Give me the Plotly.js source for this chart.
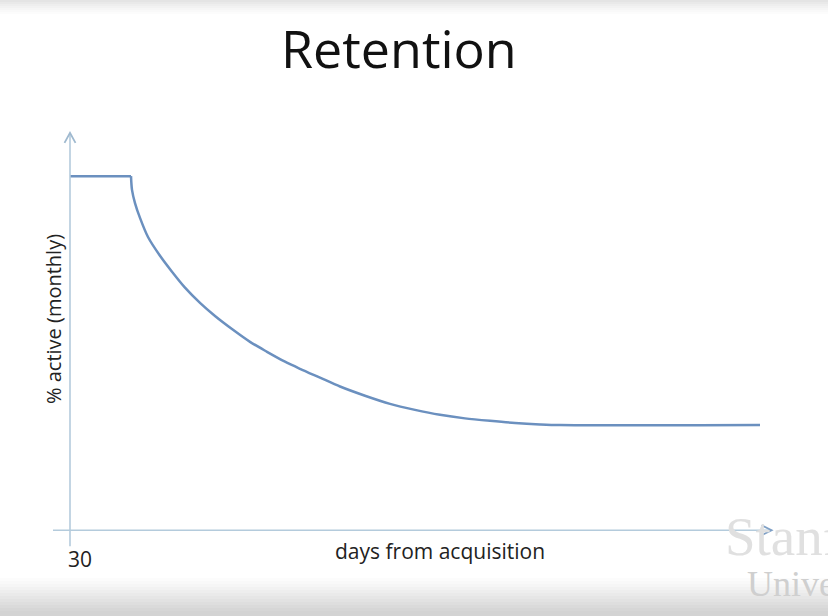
<!DOCTYPE html>
<html>
<head>
<meta charset="utf-8">
<script src="https://cdn.plot.ly/plotly-3.0.1.min.js"></script>
<style>html,body{margin:0;padding:0;background:#fff;}#chart{width:828px;height:616px;}</style>
</head>
<body>
<div id="chart"></div>
<script>
// Retention curve: days from acquisition vs % active (monthly)
var flatDays = [30, 60.5];
var flatPct = [100, 100];
var decayDays = [60.5, 61, 62.5, 65, 69, 75, 81, 87.5, 95, 102.5, 111.5, 120, 128.5, 137.5, 145, 155, 165, 177.5, 190, 202.5, 215, 227.5, 240, 252.5, 265, 275, 375];
var decayPct = [100, 96.1, 92.4, 88.2, 82.8, 77.5, 73.0, 68.5, 64.2, 60.5, 56.6, 53.2, 50.4, 47.6, 45.6, 43.1, 40.6, 38.0, 35.7, 34.0, 32.6, 31.6, 30.9, 30.3, 29.9, 29.7, 29.7];
var xTickVals = [30];
var xTickText = ['30'];

var axisColor = '#b4cbdc';
var lineColor = '#6b90bf';

var traces = [
  {x: flatDays, y: flatPct, type: 'scatter', mode: 'lines',
   line: {color: lineColor, width: 2.5, shape: 'linear'}, hoverinfo: 'skip'},
  {x: decayDays, y: decayPct, type: 'scatter', mode: 'lines',
   line: {color: lineColor, width: 2.5, shape: 'spline', smoothing: 0.8}, hoverinfo: 'skip'}
];

// layout geometry (pixels)
var L = 50, R = 48, T = 123, B = 68, W = 828, H = 616;
var PH = H - T - B, PW = W - L - R;
function py(px) { return (H - B - px) / PH; }   // pixel row -> paper y
function pxp(px) { return (px - L) / PW; }       // pixel col -> paper x

var shapes = [];
// top gradient of the slide frame
var topBands = ['#e4e4e4', '#e9e9e9', '#eeeeee', '#f2f2f2', '#f6f6f6', '#f9f9f9', '#fcfcfc'];
topBands.forEach(function(c, i){
  shapes.push({type:'rect', xref:'paper', yref:'paper', x0:-0.2, x1:1.2,
    y0: py(i*2), y1: py((i+1)*2), fillcolor:c, line:{width:0}, layer:'below'});
});
// bottom gradient
var botBands = ['#fcfcfc','#f9f9f9','#f6f6f6','#f2f2f2','#eeeeee','#eaeaea','#e6e6e6','#e2e2e2','#dedede','#dadada','#d6d6d6','#d3d3d3'];
botBands.forEach(function(c, i){
  var top = 578 + i*3;
  var bot = (i == botBands.length-1) ? H + 5 : top + 3;
  shapes.push({type:'rect', xref:'paper', yref:'paper', x0:-0.2, x1:1.2,
    y0: py(bot), y1: py(top), fillcolor:c, line:{width:0}, layer:'below'});
});
// axis lines
shapes.push({type:'line', xref:'x', yref:'y', x0:30, x1:30, y0:-4.5, y1:112.2, line:{color:axisColor, width:1.6}});
shapes.push({type:'line', xref:'x', yref:'y', x0:21.5, x1:380.8, y0:0, y1:0, line:{color:axisColor, width:1.6}});
// arrow heads (open chevrons)
shapes.push({type:'path', xref:'x', yref:'y', xsizemode:'pixel', ysizemode:'pixel', xanchor:30, yanchor:112.2,
  path:'M -5.5,-10 L 0,0 L 5.5,-10', line:{color:'#9fb9cf', width:1.8}});
shapes.push({type:'path', xref:'x', yref:'y', xsizemode:'pixel', ysizemode:'pixel', xanchor:380.8, yanchor:0,
  path:'M -10,5 L 0,0 L -10,-5', line:{color:'#7fa0c6', width:1.8}});

var font = '"Open Sans", Lato, sans-serif';

var annotations = [
  {text:'Retention', xref:'paper', yref:'paper', x:pxp(398.5), y:py(47), xanchor:'center', yanchor:'middle',
   showarrow:false, font:{family:font, size:52, color:'#111'}},
  {text:'days from acquisition', xref:'paper', yref:'paper', x:pxp(440), y:py(551), xanchor:'center', yanchor:'middle',
   showarrow:false, font:{family:font, size:21, color:'#222'}},
  {text:'% active (monthly)', xref:'paper', yref:'paper', x:pxp(53), y:py(319), xanchor:'center', yanchor:'middle',
   textangle:-90, showarrow:false, font:{family:font, size:20, color:'#222'}},
  {text:xTickText[0], xref:'x', yref:'paper', x:xTickVals[0], xshift:-4, y:py(559), xanchor:'left', yanchor:'middle',
   showarrow:false, font:{family:font, size:21, color:'#222'}},
  {text:'Stanford', xref:'paper', yref:'paper', x:pxp(723), y:py(536), xanchor:'left', yanchor:'middle',
   showarrow:false, font:{family:'"Liberation Serif", serif', size:55, color:'#e0e0e0'}},
  {text:'University', xref:'paper', yref:'paper', x:pxp(745), y:py(584), xanchor:'left', yanchor:'middle',
   showarrow:false, font:{family:'"Liberation Serif", serif', size:36, color:'#cfcfcf'}}
];

var layout = {
  width: W, height: H,
  margin: {l:L, r:R, t:T, b:B, pad:0},
  paper_bgcolor: '#ffffff', plot_bgcolor: 'rgba(0,0,0,0)',
  showlegend: false,
  xaxis: {range:[20, 385], showgrid:false, zeroline:false, showline:false, ticks:'',
    showticklabels:false, fixedrange:true},
  yaxis: {range:[-5, 115], showgrid:false, zeroline:false, showline:false, showticklabels:false, ticks:'', fixedrange:true},
  shapes: shapes,
  annotations: annotations
};

Plotly.newPlot('chart', traces, layout, {displayModeBar:false, staticPlot:true});
</script>
</body>
</html>
